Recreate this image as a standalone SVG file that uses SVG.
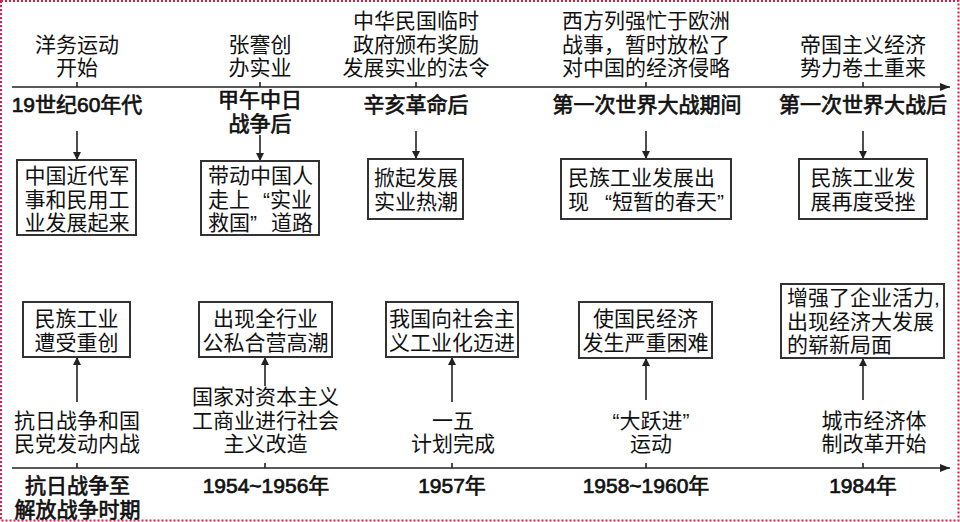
<svg xmlns="http://www.w3.org/2000/svg" width="960" height="522" viewBox="0 0 960 522">
<defs>
<style>
.t{font-family:"Liberation Sans","Noto Sans CJK SC",sans-serif;font-size:21px;fill:#111;text-anchor:middle}
.tl{text-anchor:start}
.b{font-family:"Liberation Sans","Noto Sans CJK SC",sans-serif;font-size:21px;fill:#111;stroke:#111;stroke-width:0.7;text-anchor:middle}
.box{fill:#fff;stroke:#333;stroke-width:2}
.ax{stroke:#222;stroke-width:1.6;fill:none}
.tick{stroke:#222;stroke-width:1.6}
.con{stroke:#222;stroke-width:1.6;fill:none;marker-end:url(#ah)}
</style>
<marker id="ah" viewBox="0 0 10 10" refX="10" refY="5" markerWidth="8" markerHeight="9" markerUnits="userSpaceOnUse" orient="auto">
<path d="M0,0 L10,5 L0,10 z" fill="#222"/>
</marker>
<marker id="axh" viewBox="0 0 10 8" refX="10" refY="4" markerWidth="11" markerHeight="8" markerUnits="userSpaceOnUse" orient="auto">
<path d="M0,0 L10,4 L0,8 z" fill="#222"/>
</marker>
</defs>
<rect x="1" y="1" width="957.5" height="519.5" fill="#fff" stroke="#dc1e46" stroke-width="2" stroke-dasharray="2 2"/>

<g id="timeline">
<line class="ax" x1="12" y1="87" x2="950" y2="87" marker-end="url(#axh)"/>
<line class="ax" x1="12" y1="468" x2="950" y2="468" marker-end="url(#axh)"/>
<path class="tick" d="M77,82V87M260,82V87M416,82V87M646,82V87M863,82V87"/>
<path class="tick" d="M77,463V468M265,463V468M452,463V468M646,463V468M863,463V468"/>
</g>

<g id="connectors">
<line class="con" x1="77" y1="131" x2="77" y2="160"/>
<line class="con" x1="260" y1="135" x2="260" y2="161"/>
<line class="con" x1="416" y1="131" x2="416" y2="159"/>
<line class="con" x1="646" y1="131" x2="646" y2="159"/>
<line class="con" x1="863" y1="131" x2="863" y2="159"/>
<line class="con" x1="77" y1="402" x2="77" y2="357"/>
<line class="con" x1="265" y1="386" x2="265" y2="357"/>
<line class="con" x1="452" y1="402" x2="452" y2="357"/>
<line class="con" x1="646" y1="400" x2="646" y2="358"/>
<line class="con" x1="863" y1="400" x2="863" y2="358"/>
</g>

<g id="event-top-1"><text class="t" x="77"><tspan x="77" y="51.5">洋务运动</tspan><tspan x="77" y="75">开始</tspan></text></g>
<g id="event-top-2"><text class="t" x="260"><tspan x="260" y="51.5">张謇创</tspan><tspan x="260" y="75">办实业</tspan></text></g>
<g id="event-top-3"><text class="t" x="416"><tspan x="416" y="28">中华民国临时</tspan><tspan x="416" y="51.5">政府颁布奖励</tspan><tspan x="416" y="75">发展实业的法令</tspan></text></g>
<g id="event-top-4"><text class="t" x="646"><tspan x="646" y="28">西方列强忙于欧洲</tspan><tspan x="646" y="51.5">战事，暂时放松了</tspan><tspan x="646" y="75">对中国的经济侵略</tspan></text></g>
<g id="event-top-5"><text class="t" x="863"><tspan x="863" y="51.5">帝国主义经济</tspan><tspan x="863" y="75">势力卷土重来</tspan></text></g>

<g id="time-top-1"><text class="b" x="77" y="112">19世纪60年代</text></g>
<g id="time-top-2"><text class="b" x="260"><tspan x="260" y="107">甲午中日</tspan><tspan x="260" y="130.5">战争后</tspan></text></g>
<g id="time-top-3"><text class="b" x="416" y="112">辛亥革命后</text></g>
<g id="time-top-4"><text class="b" x="647" y="112">第一次世界大战期间</text></g>
<g id="time-top-5"><text class="b" x="863" y="112">第一次世界大战后</text></g>

<g id="box-top-1"><rect class="box" x="17" y="160" width="119" height="75"/><text class="t" x="77"><tspan x="77" y="183">中国近代军</tspan><tspan x="77" y="206.5">事和民用工</tspan><tspan x="77" y="230">业发展起来</tspan></text></g>
<g id="box-top-2"><rect class="box" x="201" y="161" width="118" height="74"/><text class="t tl" x="208"><tspan x="208" y="183">带动中国人</tspan><tspan x="208" y="206.5">走上<tspan dx="13">“</tspan>实业</tspan><tspan x="208" y="230">救国”<tspan dx="14">道路</tspan></tspan></text></g>
<g id="box-top-3"><rect class="box" x="368" y="159" width="95" height="60"/><text class="t" x="416"><tspan x="416" y="185">掀起发展</tspan><tspan x="416" y="208.5">实业热潮</tspan></text></g>
<g id="box-top-4"><rect class="box" x="561" y="159" width="170" height="60"/><text class="t tl" x="568"><tspan x="568" y="185">民族工业发展出</tspan><tspan x="568" y="208.5">现<tspan dx="16">“</tspan>短暂的春天”</tspan></text></g>
<g id="box-top-5"><rect class="box" x="799" y="159" width="128" height="60"/><text class="t" x="863"><tspan x="863" y="185">民族工业发</tspan><tspan x="863" y="208.5">展再度受挫</tspan></text></g>

<g id="box-bottom-1"><rect class="box" x="23" y="302" width="107" height="55"/><text class="t" x="76.5"><tspan x="76.5" y="326">民族工业</tspan><tspan x="76.5" y="349.5">遭受重创</tspan></text></g>
<g id="box-bottom-2"><rect class="box" x="199" y="302" width="133" height="55"/><text class="t" x="265.5"><tspan x="265.5" y="326">出现全行业</tspan><tspan x="265.5" y="349.5">公私合营高潮</tspan></text></g>
<g id="box-bottom-3"><rect class="box" x="386" y="302" width="132" height="55"/><text class="t" x="452"><tspan x="452" y="326">我国向社会主</tspan><tspan x="452" y="349.5">义工业化迈进</tspan></text></g>
<g id="box-bottom-4"><rect class="box" x="579" y="302" width="133" height="56"/><text class="t" x="645.5"><tspan x="645.5" y="326">使国民经济</tspan><tspan x="645.5" y="349.5">发生严重困难</tspan></text></g>
<g id="box-bottom-5"><rect class="box" x="781" y="284" width="163" height="74"/><text class="t tl" x="787"><tspan x="787" y="305">增强了企业活力,</tspan><tspan x="787" y="328.5">出现经济大发展</tspan><tspan x="787" y="352">的崭新局面</tspan></text></g>

<g id="event-bottom-1"><text class="t" x="77"><tspan x="77" y="427.5">抗日战争和国</tspan><tspan x="77" y="451">民党发动内战</tspan></text></g>
<g id="event-bottom-2"><text class="t" x="265.5"><tspan x="265.5" y="404">国家对资本主义</tspan><tspan x="265.5" y="427.5">工商业进行社会</tspan><tspan x="265.5" y="451">主义改造</tspan></text></g>
<g id="event-bottom-3"><text class="t" x="453"><tspan x="453" y="427.5">一五</tspan><tspan x="453" y="451">计划完成</tspan></text></g>
<g id="event-bottom-4"><text class="t" x="651"><tspan x="651" y="427.5">“大跃进”</tspan><tspan x="651" y="451">运动</tspan></text></g>
<g id="event-bottom-5"><text class="t" x="874"><tspan x="874" y="427.5">城市经济体</tspan><tspan x="874" y="451">制改革开始</tspan></text></g>

<g id="time-bottom-1"><text class="b" x="77.5"><tspan x="77.5" y="493">抗日战争至</tspan><tspan x="77.5" y="516.5">解放战争时期</tspan></text></g>
<g id="time-bottom-2"><text class="b" x="266" y="493">1954~1956年</text></g>
<g id="time-bottom-3"><text class="b" x="452" y="493">1957年</text></g>
<g id="time-bottom-4"><text class="b" x="646" y="493">1958~1960年</text></g>
<g id="time-bottom-5"><text class="b" x="863" y="493">1984年</text></g>
</svg>
